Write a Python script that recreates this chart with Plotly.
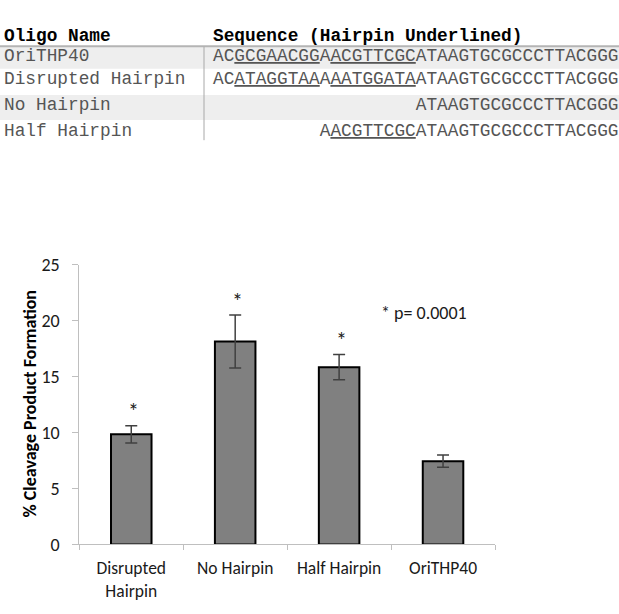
import plotly.graph_objects as go

W, H = 619, 614

# ---------------- data ----------------
categories = ["Disrupted Hairpin", "No Hairpin", "Half Hairpin", "OriTHP40"]
tick_labels = ["Disrupted<br>Hairpin", "No Hairpin", "Half Hairpin", "OriTHP40"]
cleavage_pct = [9.85, 18.15, 15.85, 7.45]
cleavage_err = [0.77, 2.36, 1.13, 0.54]
significance = ["*", "*", "*", ""]
y_ticks = [0, 5, 10, 15, 20, 25]
y_title = "% Cleavage Product Formation"
p_value_note = "* p= 0.0001"

table_headers = ["Oligo Name", "Sequence (Hairpin Underlined)"]
oligo_names = ["OriTHP40", "Disrupted Hairpin", "No Hairpin", "Half Hairpin"]
# [ ] marks the underlined hairpin segments; sequences are right-aligned
oligo_sequences = [
    "AC[GCGAACGG]A[ACGTTCGC]ATAAGTGCGCCCTTACGGG",
    "AC[ATAGGTAA]A[AATGGATA]ATAAGTGCGCCCTTACGGG",
    "ATAAGTGCGCCCTTACGGG",
    "A[ACGTTCGC]ATAAGTGCGCCCTTACGGG",
]

# ---------------- helpers ----------------
def px(x):
    return x / W


def py(y):
    return 1 - y / H


SANS = "Carlito, Calibri, Lato, sans-serif"
MONO = "Courier New, Liberation Mono, monospace"

fig = go.Figure()

fig.add_trace(go.Bar(
    x=categories,
    y=cleavage_pct,
    width=0.39,
    marker=dict(color="#808080", line=dict(color="#000000", width=2)),
    error_y=dict(type="data", array=cleavage_err, color="#404040",
                 thickness=1.5, width=6),
    hoverinfo="x+y",
    showlegend=False,
))

annotations = []
# significance stars above error bars
for c, v, e, s in zip(categories, cleavage_pct, cleavage_err, significance):
    if s:
        annotations.append(dict(
            x=c, y=v + e, xref="x", yref="y", text=s, showarrow=False,
            yanchor="middle", yshift=14, xshift=2, borderpad=0,
            font=dict(family=SANS, size=22, color="#1a1a1a"),
        ))

# p-value note
annotations.append(dict(
    x=px(380), y=py(313), xref="paper", yref="paper", text=p_value_note,
    showarrow=False, xanchor="left", yanchor="middle", borderpad=0,
    font=dict(family=SANS, size=18, color="#1a1a1a"),
))

# y-axis title
annotations.append(dict(
    x=px(30), y=py(408), xref="paper", yref="paper", text="<b>" + y_title + "</b>",
    showarrow=False, textangle=-90, xanchor="center", yanchor="middle", borderpad=0,
    font=dict(family=SANS, size=18, color="#000000"),
))

# ---------------- table ----------------
name_x = 4
seq_x = 212.5
header_y = 25.5
row_centers = [47, 71, 97, 124]
row_bands = [(37, 60), (60, 87), (87, 113), (113, 137)]
row_fill = ["#eeeeee", "#ffffff", "#eeeeee", "#ffffff"]
seq_len = max(len(s.replace("[", "").replace("]", "")) for s in oligo_sequences)

shapes = []
for (y0, y1), f in zip(row_bands, row_fill):
    if f != "#ffffff":
        shapes.append(dict(type="rect", xref="paper", yref="paper",
                           x0=0, x1=1, y0=py(y1), y1=py(y0),
                           fillcolor=f, line=dict(width=0), layer="below"))
# header rule
shapes.append(dict(type="line", xref="paper", yref="paper",
                   x0=0, x1=1, y0=py(36.5), y1=py(36.5),
                   line=dict(color="#b4b4b4", width=2)))
# column divider
shapes.append(dict(type="line", xref="paper", yref="paper",
                   x0=px(204), x1=px(204), y0=py(37), y1=py(134),
                   line=dict(color="#a8a8a8", width=1)))

for hx, htxt in zip([name_x, seq_x], table_headers):
    annotations.append(dict(
        x=px(hx), y=py(header_y), xref="paper", yref="paper",
        text="<b>" + htxt + "</b>", showarrow=False, xanchor="left",
        yanchor="middle", borderpad=0, borderwidth=0,
        font=dict(family=MONO, size=17.8, color="#000000"),
    ))

for name, seq, yc in zip(oligo_names, oligo_sequences, row_centers):
    annotations.append(dict(
        x=px(name_x), y=py(yc), xref="paper", yref="paper", text=name,
        showarrow=False, xanchor="left", yanchor="middle", borderpad=0, borderwidth=0,
        font=dict(family=MONO, size=17.8, color="#555555"),
    ))
    plain = seq.replace("[", "").replace("]", "")
    pad = "\u00a0" * (seq_len - len(plain))
    txt = pad + seq.replace("[", "<u>").replace("]", "</u>")
    annotations.append(dict(
        x=px(seq_x), y=py(yc), xref="paper", yref="paper", text=txt,
        showarrow=False, xanchor="left", yanchor="middle", borderpad=0, borderwidth=0,
        font=dict(family=MONO, size=17.8, color="#555555"),
    ))

fig.update_layout(
    width=W, height=H,
    margin=dict(l=0, r=0, t=0, b=0),
    paper_bgcolor="#ffffff", plot_bgcolor="#ffffff",
    annotations=annotations,
    shapes=shapes,
    xaxis=dict(
        domain=[px(79.3), px(495)],
        categoryorder="array", categoryarray=categories,
        tickmode="array", tickvals=categories, ticktext=tick_labels,
        showline=True, linecolor="#bfbfbf", linewidth=1,
        ticks="outside", tickson="boundaries", ticklen=5, tickcolor="#bfbfbf",
        ticklabelstandoff=8,
        tickfont=dict(family=SANS, size=17.5, color="#1a1a1a"),
        showgrid=False, zeroline=False,
    ),
    yaxis=dict(
        domain=[py(553.3), py(263.3)],
        range=[0, 25], tickmode="array", tickvals=y_ticks,
        showline=True, linecolor="#bfbfbf", linewidth=1,
        ticks="outside", ticklen=6, tickcolor="#bfbfbf",
        ticklabelstandoff=9,
        tickfont=dict(family=SANS, size=18, color="#1a1a1a"),
        showgrid=False, zeroline=False,
    ),
)

fig.write_html("out.html")
